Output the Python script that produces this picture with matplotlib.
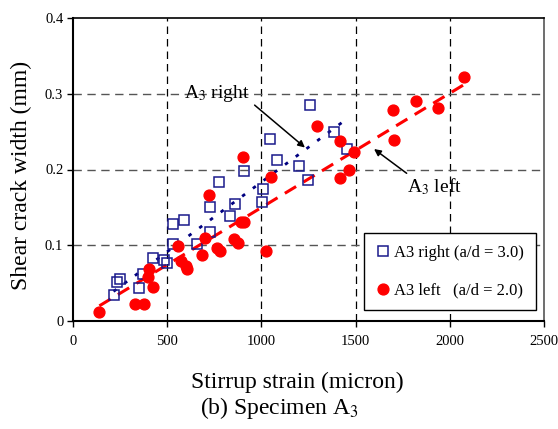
import matplotlib
matplotlib.use('Agg')
import matplotlib.pyplot as plt

plt.rcParams['font.family'] = ['Liberation Serif', 'DejaVu Serif']
plt.rcParams['mathtext.fontset'] = 'stix'

# A3 right (a/d = 3.0) - open squares
right_x = [218, 232, 249, 352, 370, 423, 483, 500, 533, 529, 591, 656, 729, 729,
           773, 833, 858, 906, 1003, 1008, 1047, 1083, 1198, 1247, 1260, 1387, 1454]
right_y = [0.034, 0.052, 0.056, 0.044, 0.062, 0.083, 0.080, 0.076, 0.101, 0.128,
           0.133, 0.102, 0.118, 0.151, 0.183, 0.138, 0.154, 0.198, 0.157, 0.174,
           0.240, 0.212, 0.205, 0.186, 0.285, 0.250, 0.227]

# A3 left (a/d = 2.0) - filled circles
left_x = [140, 329, 377, 426, 400, 405, 573, 600, 603, 559, 683, 701, 766, 780, 724,
          855, 878, 890, 907, 901, 1023, 1053, 1297, 1417, 1492, 1467, 1417, 1700,
          1704, 1821, 1937, 2075]
left_y = [0.012, 0.023, 0.023, 0.045, 0.058, 0.068, 0.079, 0.072, 0.068, 0.099,
          0.087, 0.109, 0.096, 0.093, 0.166, 0.108, 0.103, 0.131, 0.131, 0.216,
          0.093, 0.190, 0.257, 0.238, 0.223, 0.199, 0.189, 0.279, 0.239, 0.290,
          0.281, 0.322]

# trend lines (end points)
right_fit_x = [215, 1460]
right_fit_y = [0.039, 0.268]
left_fit_x = [140, 2075]
left_fit_y = [0.020, 0.312]

x_ticks = [0, 500, 1000, 1500, 2000, 2500]
y_ticks = [0, 0.1, 0.2, 0.3, 0.4]
y_tick_labels = ['0', '0.1', '0.2', '0.3', '0.4']

fig = plt.figure(figsize=(5.58, 4.29), dpi=100)
ax = fig.add_axes([73 / 558, 108 / 429, 471 / 558, 303 / 429])

for v in x_ticks[1:-1]:
    ax.axvline(v, color='black', lw=0.9, dashes=(6, 4), zorder=1)
for v in y_ticks[1:-1]:
    ax.axhline(v, color='#555555', lw=1.0, dashes=(6, 4), zorder=1)

ax.plot(right_fit_x, right_fit_y, color='#000080', lw=2, dashes=(1.3, 3.5), zorder=2)
ax.plot(left_fit_x, left_fit_y, color='red', lw=2.2, dashes=(4.3, 2.8), zorder=2)

ax.plot(right_x, right_y, 's', ms=6.8, mfc='none', mec='#1a1a8c', mew=1.1,
        label='A3 right (a/d = 3.0)', zorder=3)
ax.plot(left_x, left_y, 'o', ms=7.8, mfc='red', mec='red',
        label='A3 left   (a/d = 2.0)', zorder=3)

ax.set_xlim(0, 2500)
ax.set_ylim(0, 0.4)
ax.set_xticks(x_ticks)
ax.set_yticks(y_ticks)
ax.set_yticklabels(y_tick_labels)
ax.tick_params(labelsize=10.5, length=4, width=1, direction='out')
ax.tick_params(axis='x', pad=6)
ax.tick_params(axis='y', pad=3)
for s in ['left', 'bottom']:
    ax.spines[s].set_linewidth(1.5)
ax.spines['top'].set_linewidth(1.2)
ax.spines['right'].set_linewidth(1.2)
ax.spines['right'].set_color('#555555')

# labels and arrows
ax.text(764, 0.300, 'A$_3$ right', fontsize=14, ha='center', va='center')
ax.annotate('', xy=(1231, 0.229), xytext=(964, 0.285),
            arrowprops=dict(arrowstyle='-|>', color='black', lw=1.1,
                            shrinkA=0, shrinkB=0))
ax.text(1916, 0.178, 'A$_3$ left', fontsize=14, ha='center', va='center')
ax.annotate('', xy=(1598, 0.227), xytext=(1771, 0.195),
            arrowprops=dict(arrowstyle='-|>', color='black', lw=1.1,
                            shrinkA=0, shrinkB=0))

leg = ax.legend(loc='lower right', bbox_to_anchor=(0.983, 0.036), fontsize=12,
                fancybox=False, framealpha=1, edgecolor='black',
                handletextpad=0.3, handlelength=0.8, labelspacing=1.3,
                borderpad=0.7, borderaxespad=0)
leg.get_frame().set_linewidth(1.0)

fig.text(21 / 558, 1 - 175 / 429, 'Shear crack width (mm)', rotation=90,
         fontsize=17, ha='center', va='center')
fig.text(297 / 558, 1 - 382 / 429, 'Stirrup strain (micron)',
         fontsize=17, ha='center', va='center')
fig.text(280 / 558, 1 - 408 / 429, '(b) Specimen A$_3$',
         fontsize=17, ha='center', va='center')

fig.savefig('out.png', dpi=100)
